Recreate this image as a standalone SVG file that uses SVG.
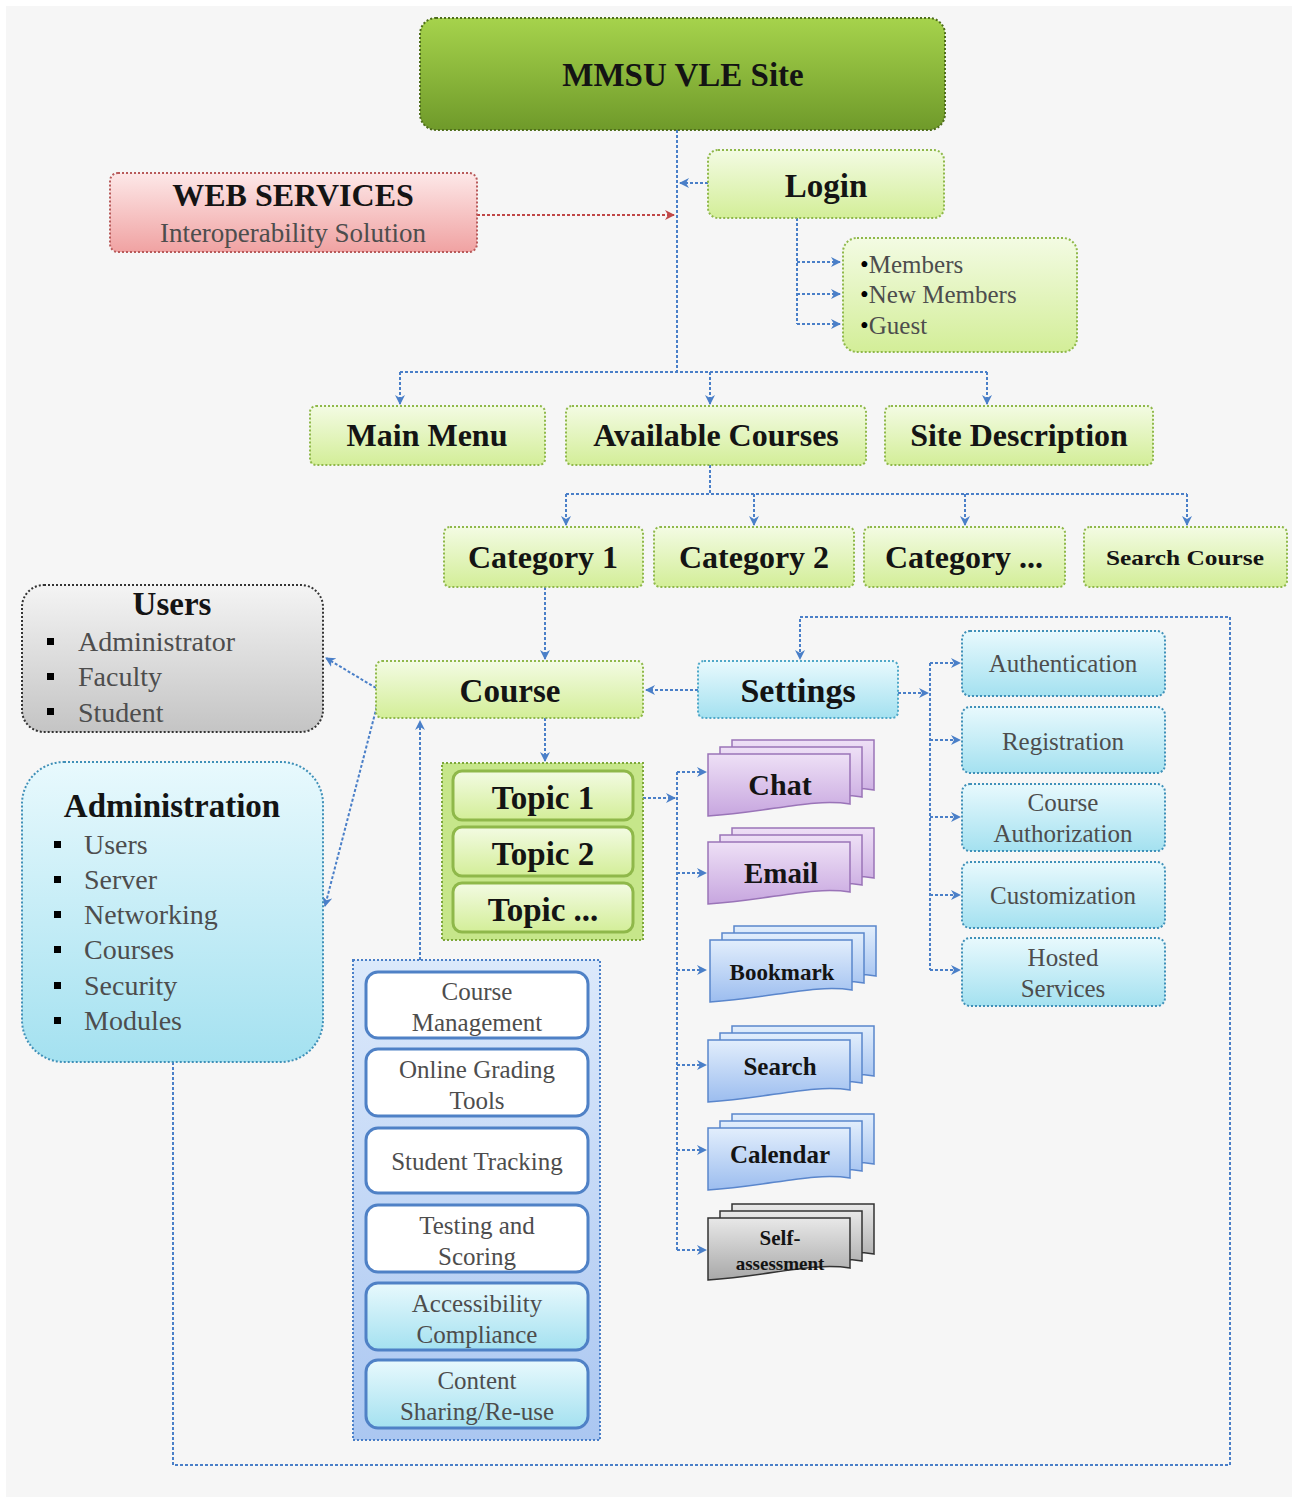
<svg xmlns="http://www.w3.org/2000/svg" xmlns:xlink="http://www.w3.org/1999/xlink" width="1298" height="1503" viewBox="0 0 1298 1503">
<style>
.tb{font-family:"Liberation Serif","Times New Roman",serif;font-weight:bold;fill:#141414;text-anchor:middle}
.tg{font-family:"Liberation Serif","Times New Roman",serif;fill:#4d4d4d;text-anchor:middle}
.tl{font-family:"Liberation Serif","Times New Roman",serif;fill:#4d4d4d}
.bx{stroke-width:2;stroke-dasharray:2 2}
.cn{fill:none;stroke:#4a7fc8;stroke-width:2;stroke-dasharray:3 2}
.cr{fill:none;stroke:#c04848;stroke-width:2;stroke-dasharray:3 2}
.inner{fill:#ffffff;stroke:#4f81c6;stroke-width:3}
</style>
<defs>
<linearGradient id="gDark" x1="0" y1="0" x2="0" y2="1"><stop offset="0" stop-color="#a6d34c"/><stop offset="1" stop-color="#6f9a2a"/></linearGradient>
<linearGradient id="gLight" x1="0" y1="0" x2="0" y2="1"><stop offset="0" stop-color="#f3fbe3"/><stop offset="1" stop-color="#d3ee98"/></linearGradient>
<linearGradient id="gPink" x1="0" y1="0" x2="0" y2="1"><stop offset="0" stop-color="#fde8e8"/><stop offset="1" stop-color="#f0a2a2"/></linearGradient>
<linearGradient id="gGray" x1="0" y1="0" x2="0" y2="1"><stop offset="0" stop-color="#f4f4f4"/><stop offset="1" stop-color="#c4c4c4"/></linearGradient>
<linearGradient id="gCyan" x1="0" y1="0" x2="0" y2="1"><stop offset="0" stop-color="#e8f9fd"/><stop offset="1" stop-color="#a4e1f0"/></linearGradient>
<linearGradient id="gPurple" x1="0" y1="0" x2="0" y2="1"><stop offset="0" stop-color="#eee0f6"/><stop offset="1" stop-color="#c7a6df"/></linearGradient>
<linearGradient id="gBlue" x1="0" y1="0" x2="0" y2="1"><stop offset="0" stop-color="#e2eefc"/><stop offset="1" stop-color="#9cbdef"/></linearGradient>
<linearGradient id="gTool" x1="0" y1="0" x2="0" y2="1"><stop offset="0" stop-color="#dce9fb"/><stop offset="1" stop-color="#abc7f1"/></linearGradient>
<linearGradient id="gGray2" x1="0" y1="0" x2="0" y2="1"><stop offset="0" stop-color="#e8e8e8"/><stop offset="1" stop-color="#a8a8a8"/></linearGradient>
<marker id="ab" viewBox="0 0 10 10" refX="9" refY="5" markerWidth="10" markerHeight="10" markerUnits="userSpaceOnUse" orient="auto"><path d="M0,0 L10,5 L0,10 L3,5 z" fill="#4a7fc8"/></marker>
<marker id="ar" viewBox="0 0 10 10" refX="9" refY="5" markerWidth="10" markerHeight="10" markerUnits="userSpaceOnUse" orient="auto"><path d="M0,0 L10,5 L0,10 L3,5 z" fill="#c04848"/></marker>
<path id="card" d="M0,0 H142 V50 C104,44 62,58 0,62 Z"/>
</defs>
<rect x="0" y="0" width="1298" height="1503" fill="#ffffff"/>
<rect x="6" y="6" width="1286" height="1491" fill="#f6f6f6"/>

<g id="connectors">
<path class="cn" d="M677,130 V372"/>
<path class="cn" d="M708,183 H680" marker-end="url(#ab)"/>
<path class="cr" d="M477,215 H674" marker-end="url(#ar)"/>
<path class="cn" d="M797,218 V324"/>
<path class="cn" d="M797,262 H840" marker-end="url(#ab)"/>
<path class="cn" d="M797,294 H840" marker-end="url(#ab)"/>
<path class="cn" d="M797,324 H840" marker-end="url(#ab)"/>
<path class="cn" d="M400,372 H987"/>
<path class="cn" d="M400,372 V404" marker-end="url(#ab)"/>
<path class="cn" d="M710,372 V404" marker-end="url(#ab)"/>
<path class="cn" d="M987,372 V404" marker-end="url(#ab)"/>
<path class="cn" d="M710,465 V494"/>
<path class="cn" d="M566,494 H1187"/>
<path class="cn" d="M566,494 V525" marker-end="url(#ab)"/>
<path class="cn" d="M754,494 V525" marker-end="url(#ab)"/>
<path class="cn" d="M965,494 V525" marker-end="url(#ab)"/>
<path class="cn" d="M1187,494 V525" marker-end="url(#ab)"/>
<path class="cn" d="M545,587 V659" marker-end="url(#ab)"/>
<path class="cn" d="M376,688 L326,658" marker-end="url(#ab)"/>
<path class="cn" d="M378,702 L325,906" marker-end="url(#ab)"/>
<path class="cn" d="M545,718 V761" marker-end="url(#ab)"/>
<path class="cn" d="M420,960 V721" marker-end="url(#ab)"/>
<path class="cn" d="M698,690 H646" marker-end="url(#ab)"/>
<path class="cn" d="M173,1062 V1465 H1230 V617 H800 V659" marker-end="url(#ab)"/>
<path class="cn" d="M898,693 H928" marker-end="url(#ab)"/>
<path class="cn" d="M930,663 V970"/>
<path class="cn" d="M930,663 H960" marker-end="url(#ab)"/>
<path class="cn" d="M930,740 H960" marker-end="url(#ab)"/>
<path class="cn" d="M930,817 H960" marker-end="url(#ab)"/>
<path class="cn" d="M930,895 H960" marker-end="url(#ab)"/>
<path class="cn" d="M930,970 H960" marker-end="url(#ab)"/>
<path class="cn" d="M643,798 H675" marker-end="url(#ab)"/>
<path class="cn" d="M677,772 V1250"/>
<path class="cn" d="M677,772 H706" marker-end="url(#ab)"/>
<path class="cn" d="M677,873 H706" marker-end="url(#ab)"/>
<path class="cn" d="M677,970 H706" marker-end="url(#ab)"/>
<path class="cn" d="M677,1065 H706" marker-end="url(#ab)"/>
<path class="cn" d="M677,1150 H706" marker-end="url(#ab)"/>
<path class="cn" d="M677,1250 H706" marker-end="url(#ab)"/>
</g>

<g id="mmsu">
<rect class="bx" x="420" y="18" width="525" height="112" rx="16" fill="url(#gDark)" stroke="#4f6e1c"/>
<text class="tb" x="683" y="86" font-size="33">MMSU VLE Site</text>
</g>
<g id="login">
<rect class="bx" x="708" y="150" width="236" height="68" rx="10" fill="url(#gLight)" stroke="#8fb84a"/>
<text class="tb" x="826" y="197" font-size="33">Login</text>
</g>
<g id="webservices">
<rect class="bx" x="110" y="173" width="367" height="79" rx="8" fill="url(#gPink)" stroke="#b85a5a"/>
<text class="tb" x="293" y="206" font-size="32">WEB SERVICES</text>
<text class="tg" x="293" y="242" font-size="27">Interoperability  Solution</text>
</g>
<g id="members">
<rect class="bx" x="843" y="238" width="234" height="114" rx="14" fill="url(#gLight)" stroke="#8fb84a"/>
<text class="tl" x="860" y="273" font-size="25"><tspan fill="#000">•</tspan>Members</text>
<text class="tl" x="860" y="303" font-size="25"><tspan fill="#000">•</tspan>New Members</text>
<text class="tl" x="860" y="334" font-size="25"><tspan fill="#000">•</tspan>Guest</text>
</g>
<g id="mainmenu">
<rect class="bx" x="310" y="406" width="235" height="59" rx="6" fill="url(#gLight)" stroke="#8fb84a"/>
<text class="tb" x="427" y="446" font-size="32">Main Menu</text>
</g>
<g id="availablecourses">
<rect class="bx" x="566" y="406" width="300" height="59" rx="6" fill="url(#gLight)" stroke="#8fb84a"/>
<text class="tb" x="716" y="446" font-size="32">Available Courses</text>
</g>
<g id="sitedescription">
<rect class="bx" x="885" y="406" width="268" height="59" rx="6" fill="url(#gLight)" stroke="#8fb84a"/>
<text class="tb" x="1019" y="446" font-size="32">Site Description</text>
</g>
<g id="category1">
<rect class="bx" x="444" y="527" width="199" height="60" rx="6" fill="url(#gLight)" stroke="#8fb84a"/>
<text class="tb" x="543" y="568" font-size="32">Category 1</text>
</g>
<g id="category2">
<rect class="bx" x="654" y="527" width="200" height="60" rx="6" fill="url(#gLight)" stroke="#8fb84a"/>
<text class="tb" x="754" y="568" font-size="32">Category 2</text>
</g>
<g id="category3">
<rect class="bx" x="864" y="527" width="201" height="60" rx="6" fill="url(#gLight)" stroke="#8fb84a"/>
<text class="tb" x="964" y="568" font-size="32">Category ...</text>
</g>
<g id="searchcourse">
<rect class="bx" x="1084" y="527" width="203" height="60" rx="6" fill="url(#gLight)" stroke="#8fb84a"/>
<text class="tb" x="1185" y="565" font-size="22" textLength="158" lengthAdjust="spacingAndGlyphs">Search Course</text>
</g>
<g id="users">
<rect class="bx" x="22" y="585" width="301" height="147" rx="22" fill="url(#gGray)" stroke="#333"/>
<text class="tb" x="172" y="615" font-size="33">Users</text>
<rect x="47" y="638" width="7" height="7" fill="#000"/>
<rect x="47" y="673" width="7" height="7" fill="#000"/>
<rect x="47" y="708" width="7" height="7" fill="#000"/>
<text class="tl" x="78" y="651" font-size="28">Administrator</text>
<text class="tl" x="78" y="686" font-size="28">Faculty</text>
<text class="tl" x="78" y="722" font-size="28">Student</text>
</g>
<g id="course">
<rect class="bx" x="376" y="661" width="267" height="57" rx="6" fill="url(#gLight)" stroke="#8fb84a"/>
<text class="tb" x="510" y="702" font-size="33">Course</text>
</g>
<g id="settings">
<rect class="bx" x="698" y="661" width="200" height="57" rx="6" fill="url(#gCyan)" stroke="#4fa8c8"/>
<text class="tb" x="798" y="702" font-size="34">Settings</text>
</g>
<g id="authentication">
<rect class="bx" x="962" y="631" width="203" height="65" rx="8" fill="url(#gCyan)" stroke="#3f90b8"/>
<text class="tg" x="1063" y="672" font-size="25">Authentication</text>
</g>
<g id="registration">
<rect class="bx" x="962" y="707" width="203" height="66" rx="8" fill="url(#gCyan)" stroke="#3f90b8"/>
<text class="tg" x="1063" y="750" font-size="25">Registration</text>
</g>
<g id="courseauthorization">
<rect class="bx" x="962" y="784" width="203" height="67" rx="8" fill="url(#gCyan)" stroke="#3f90b8"/>
<text class="tg" x="1063" y="811" font-size="25">Course</text>
<text class="tg" x="1063" y="842" font-size="25">Authorization</text>
</g>
<g id="customization">
<rect class="bx" x="962" y="862" width="203" height="66" rx="8" fill="url(#gCyan)" stroke="#3f90b8"/>
<text class="tg" x="1063" y="904" font-size="25">Customization</text>
</g>
<g id="hostedservices">
<rect class="bx" x="962" y="938" width="203" height="68" rx="8" fill="url(#gCyan)" stroke="#3f90b8"/>
<text class="tg" x="1063" y="966" font-size="25">Hosted</text>
<text class="tg" x="1063" y="997" font-size="25">Services</text>
</g>
<g id="administration">
<rect class="bx" x="22" y="762" width="301" height="300" rx="42" fill="url(#gCyan)" stroke="#3f90b8"/>
<text class="tb" x="172" y="817" font-size="33">Administration</text>
<rect x="54" y="841" width="7" height="7" fill="#000"/>
<rect x="54" y="876" width="7" height="7" fill="#000"/>
<rect x="54" y="911" width="7" height="7" fill="#000"/>
<rect x="54" y="946" width="7" height="7" fill="#000"/>
<rect x="54" y="982" width="7" height="7" fill="#000"/>
<rect x="54" y="1017" width="7" height="7" fill="#000"/>
<text class="tl" x="84" y="854" font-size="28">Users</text>
<text class="tl" x="84" y="889" font-size="28">Server</text>
<text class="tl" x="84" y="924" font-size="28">Networking</text>
<text class="tl" x="84" y="959" font-size="28">Courses</text>
<text class="tl" x="84" y="995" font-size="28">Security</text>
<text class="tl" x="84" y="1030" font-size="28">Modules</text>
</g>
<g id="topics">
<rect class="bx" x="442" y="763" width="201" height="177" fill="#c6e68a" stroke="#7ea83a"/>
<rect x="453" y="771" width="180" height="49" rx="9" fill="url(#gLight)" stroke="#8fb84a" stroke-width="3"/>
<rect x="453" y="827" width="180" height="49" rx="9" fill="url(#gLight)" stroke="#8fb84a" stroke-width="3"/>
<rect x="453" y="883" width="180" height="49" rx="9" fill="url(#gLight)" stroke="#8fb84a" stroke-width="3"/>
<text class="tb" x="543" y="809" font-size="33">Topic 1</text>
<text class="tb" x="543" y="865" font-size="33">Topic 2</text>
<text class="tb" x="543" y="921" font-size="33">Topic ...</text>
</g>
<g id="chat">
<use href="#card" x="732" y="740" fill="url(#gPurple)" stroke="#9a74b8" stroke-width="1.5"/>
<use href="#card" x="720" y="747" fill="url(#gPurple)" stroke="#9a74b8" stroke-width="1.5"/>
<use href="#card" x="708" y="754" fill="url(#gPurple)" stroke="#9a74b8" stroke-width="1.5"/>
<text class="tb" x="780" y="795" font-size="30">Chat</text>
</g>
<g id="email">
<use href="#card" x="732" y="828" fill="url(#gPurple)" stroke="#9a74b8" stroke-width="1.5"/>
<use href="#card" x="720" y="835" fill="url(#gPurple)" stroke="#9a74b8" stroke-width="1.5"/>
<use href="#card" x="708" y="842" fill="url(#gPurple)" stroke="#9a74b8" stroke-width="1.5"/>
<text class="tb" x="781" y="883" font-size="29">Email</text>
</g>
<g id="bookmark">
<use href="#card" x="734" y="926" fill="url(#gBlue)" stroke="#5a86cc" stroke-width="1.5"/>
<use href="#card" x="722" y="933" fill="url(#gBlue)" stroke="#5a86cc" stroke-width="1.5"/>
<use href="#card" x="710" y="940" fill="url(#gBlue)" stroke="#5a86cc" stroke-width="1.5"/>
<text class="tb" x="782" y="980" font-size="23">Bookmark</text>
</g>
<g id="search">
<use href="#card" x="732" y="1026" fill="url(#gBlue)" stroke="#5a86cc" stroke-width="1.5"/>
<use href="#card" x="720" y="1033" fill="url(#gBlue)" stroke="#5a86cc" stroke-width="1.5"/>
<use href="#card" x="708" y="1040" fill="url(#gBlue)" stroke="#5a86cc" stroke-width="1.5"/>
<text class="tb" x="780" y="1075" font-size="25">Search</text>
</g>
<g id="calendar">
<use href="#card" x="732" y="1114" fill="url(#gBlue)" stroke="#5a86cc" stroke-width="1.5"/>
<use href="#card" x="720" y="1121" fill="url(#gBlue)" stroke="#5a86cc" stroke-width="1.5"/>
<use href="#card" x="708" y="1128" fill="url(#gBlue)" stroke="#5a86cc" stroke-width="1.5"/>
<text class="tb" x="780" y="1163" font-size="25">Calendar</text>
</g>
<g id="selfassessment">
<use href="#card" x="732" y="1204" fill="url(#gGray2)" stroke="#333" stroke-width="1.5"/>
<use href="#card" x="720" y="1211" fill="url(#gGray2)" stroke="#333" stroke-width="1.5"/>
<use href="#card" x="708" y="1218" fill="url(#gGray2)" stroke="#333" stroke-width="1.5"/>
<text class="tb" x="780" y="1245" font-size="21">Self-</text>
<text class="tb" x="780" y="1270" font-size="19">assessment</text>
</g>
<g id="tools">
<rect class="bx" x="353" y="960" width="247" height="480" fill="url(#gTool)" stroke="#4a7fc8"/>
<rect class="inner" x="366" y="972" width="222" height="66" rx="12"/>
<rect class="inner" x="366" y="1049" width="222" height="67" rx="12"/>
<rect class="inner" x="366" y="1128" width="222" height="65" rx="12"/>
<rect class="inner" x="366" y="1205" width="222" height="67" rx="12"/>
<rect x="366" y="1283" width="222" height="67" rx="12" fill="url(#gCyan)" stroke="#4f81c6" stroke-width="3"/>
<rect x="366" y="1360" width="222" height="68" rx="12" fill="url(#gCyan)" stroke="#4f81c6" stroke-width="3"/>
<text class="tg" x="477" y="1000" font-size="25">Course</text>
<text class="tg" x="477" y="1031" font-size="25">Management</text>
<text class="tg" x="477" y="1078" font-size="25">Online Grading</text>
<text class="tg" x="477" y="1109" font-size="25">Tools</text>
<text class="tg" x="477" y="1170" font-size="25">Student Tracking</text>
<text class="tg" x="477" y="1234" font-size="25">Testing and</text>
<text class="tg" x="477" y="1265" font-size="25">Scoring</text>
<text class="tg" x="477" y="1312" font-size="25">Accessibility</text>
<text class="tg" x="477" y="1343" font-size="25">Compliance</text>
<text class="tg" x="477" y="1389" font-size="25">Content</text>
<text class="tg" x="477" y="1420" font-size="25">Sharing/Re-use</text>
</g>
</svg>
